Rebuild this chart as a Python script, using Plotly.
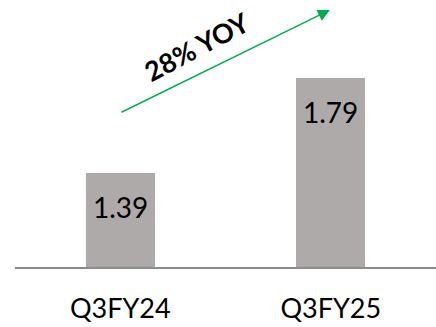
import plotly.graph_objects as go

# Quarterly values
quarters = ["Q3FY24", "Q3FY25"]
values = [1.39, 1.79]
growth_label = "28% YOY"

BAR_COLOR = "#AEAAAA"
GREEN = "#00B050"
FONT = "Lato"

fig = go.Figure()
fig.add_trace(go.Bar(
    x=quarters,
    y=values,
    marker=dict(color=BAR_COLOR, line=dict(width=0)),
    width=0.33,
    hoverinfo="skip",
))

# value labels sitting near the top of each bar
for q, v in zip(quarters, values):
    fig.add_annotation(
        x=q, y=v, xref="x", yref="y",
        text=f"{v:.2f}", showarrow=False,
        yshift=-34,
        font=dict(family=FONT, size=28, color="#000000"),
    )

# growth arrow
fig.add_annotation(
    x=0.748, y=0.9625, xref="paper", yref="paper",
    ax=-210, ay=103, axref="pixel", ayref="pixel",
    text="", showarrow=True,
    arrowhead=2, arrowsize=1.6, arrowwidth=1.5, arrowcolor=GREEN,
)
fig.add_annotation(
    x=0.432, y=0.824, xref="paper", yref="paper",
    xanchor="center", yanchor="middle",
    text=f"<b>{growth_label}</b>", showarrow=False,
    textangle=-28,
    font=dict(family=FONT, size=27, color="#000000"),
)

fig.update_layout(
    width=436, height=327,
    margin=dict(l=15, r=0, t=0, b=60),
    paper_bgcolor="white", plot_bgcolor="white",
    showlegend=False,
    bargap=0,
    xaxis=dict(
        range=[-0.5, 1.5],
        showline=True, linecolor="#8C8C8C", linewidth=2,
        showgrid=False, zeroline=False, ticks="",
        ticklabelstandoff=17,
        tickfont=dict(family=FONT, size=27, color="#000000"),
        fixedrange=True,
    ),
    yaxis=dict(
        range=[0.994, 2.118],
        visible=False, showgrid=False, zeroline=False,
        fixedrange=True,
    ),
)

fig.write_html("out.html", config={"displayModeBar": False})
